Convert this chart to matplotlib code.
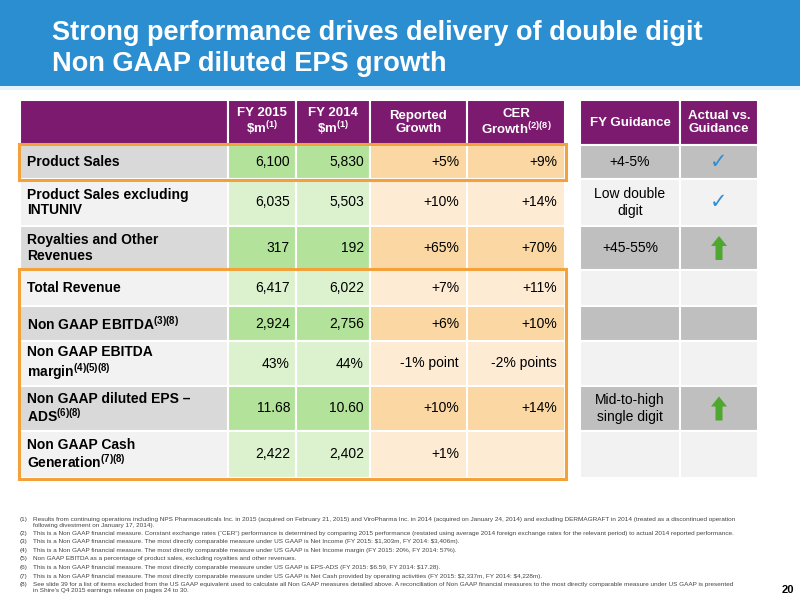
import matplotlib.pyplot as plt
from matplotlib.patches import Rectangle, FancyArrow

plt.rcParams['font.family'] = ['Liberation Sans', 'DejaVu Sans']
plt.rcParams['mathtext.fontset'] = 'custom'
plt.rcParams['mathtext.rm'] = 'Liberation Sans'
plt.rcParams['mathtext.bf'] = 'Liberation Sans:bold'

title = ["Strong performance drives delivery of double digit", "Non GAAP diluted EPS growth"]
headers = ["", "FY 2015\n\\$m$^{\\mathbf{(1)}}$", "FY 2014\n\\$m$^{\\mathbf{(1)}}$", "Reported\nGrowth",
           "CER\nGrowth$^{\\mathbf{(2)(8)}}$"]
guide_headers = ["FY Guidance", "Actual vs.\nGuidance"]
row_labels = ["Product Sales", "Product Sales excluding\nINTUNIV", "Royalties and Other\nRevenues",
              "Total Revenue", "Non GAAP EBITDA$^{\\mathbf{(3)(8)}}$", "Non GAAP EBITDA\nmargin$^{\\mathbf{(4)(5)(8)}}$",
              "Non GAAP diluted EPS \u2013\nADS$^{\\mathbf{(6)(8)}}$", "Non GAAP Cash\nGeneration$^{\\mathbf{(7)(8)}}$"]
fy2015 = ["6,100", "6,035", "317", "6,417", "2,924", "43%", "11.68", "2,422"]
fy2014 = ["5,830", "5,503", "192", "6,022", "2,756", "44%", "10.60", "2,402"]
reported = ["+5%", "+10%", "+65%", "+7%", "+6%", "-1% point", "+10%", "+1%"]
cer = ["+9%", "+14%", "+70%", "+11%", "+10%", "-2% points", "+14%", ""]
guidance = ["+4-5%", "Low double\ndigit", "+45-55%", "", "", "", "Mid-to-high\nsingle digit", ""]
status = ["check", "check", "up", "", "", "", "up", ""]
footnotes = [
    ("(1)", "Results from continuing operations including NPS Pharmaceuticals Inc. in 2015 (acquired on February 21, 2015) and ViroPharma Inc. in 2014 (acquired on January 24, 2014) and excluding DERMAGRAFT in 2014 (treated as a discontinued operation\nfollowing divestment on January 17, 2014)."),
    ("(2)", "This is a Non GAAP financial measure. Constant exchange rates (\u201cCER\u201d) performance is determined by comparing 2015 performance (restated using average 2014 foreign exchange rates for the relevant period) to actual 2014 reported performance."),
    ("(3)", "This is a Non GAAP financial measure. The most directly comparable measure under US GAAP is Net Income (FY 2015: $1,303m, FY 2014: $3,406m)."),
    ("(4)", "This is a Non GAAP financial measure. The most directly comparable measure under US GAAP is Net Income margin (FY 2015: 20%, FY 2014: 57%)."),
    ("(5)", "Non GAAP EBITDA as a percentage of product sales, excluding royalties and other revenues."),
    ("(6)", "This is a Non GAAP financial measure. The most directly comparable measure under US GAAP is EPS-ADS (FY 2015: $6.59, FY 2014: $17.28)."),
    ("(7)", "This is a Non GAAP financial measure. The most directly comparable measure under US GAAP is Net Cash provided by operating activities (FY 2015: $2,337m, FY 2014: $4,228m)."),
    ("(8)", "See slide 39 for a list of items excluded from the US GAAP equivalent used to calculate all Non GAAP measures detailed above. A reconciliation of Non GAAP financial measures to the most directly comparable measure under US GAAP is presented\nin Shire's Q4 2015 earnings release on pages 24 to 30."),
]

# layout in pixels
col_x = [20, 228, 296, 370, 467, 565]
gcol_x = [580, 680, 758]
row_y = [100, 145, 179, 226, 270, 306, 341, 386, 431, 478]
PURPLE = "#7B1A6E"

fig = plt.figure(figsize=(8, 6.01), dpi=100)
ax = fig.add_axes([0, 0, 1, 1])
ax.set_xlim(0, 800)
ax.set_ylim(601, 0)
ax.axis('off')

ax.add_patch(Rectangle((0, 0), 800, 86, color="#2B8ED1", lw=0))
ax.add_patch(Rectangle((0, 86), 800, 4, color="#E6F3FA", lw=0))
for i, t in enumerate(title):
    ax.text(52, 33 + i * 31, t, color="white", fontsize=19.5, fontweight='bold', va='center')

def cell(x0, x1, y0, y1, fc):
    ax.add_patch(Rectangle((x0, y0), x1 - x0, y1 - y0, fc=fc, ec="white", lw=1.5))

# headers
for j in range(5):
    cell(col_x[j], col_x[j + 1], row_y[0], row_y[1], PURPLE)
    ax.text((col_x[j] + col_x[j + 1]) / 2, (row_y[0] + row_y[1]) / 2, headers[j], color="white",
            fontsize=9.5, fontweight='bold', ha='center', va='center', linespacing=1.1)
for j in range(2):
    cell(gcol_x[j], gcol_x[j + 1], row_y[0], row_y[1], PURPLE)
    ax.text((gcol_x[j] + gcol_x[j + 1]) / 2, (row_y[0] + row_y[1]) / 2, guide_headers[j], color="white",
            fontsize=9.5, fontweight='bold', ha='center', va='center', linespacing=1.2)

for i in range(len(row_labels)):
    y0, y1 = row_y[i + 1], row_y[i + 2]
    ym = (y0 + y1) / 2
    dark = i % 2 == 0
    cell(col_x[0], col_x[1], y0, y1, "#D9D9D9" if dark else "#F2F2F2")
    cell(col_x[1], col_x[2], y0, y1, "#B3E39A" if dark else "#DCF2CF")
    cell(col_x[2], col_x[3], y0, y1, "#B3E39A" if dark else "#DCF2CF")
    cell(col_x[3], col_x[4], y0, y1, "#FAD7A3" if dark else "#FDEBD4")
    cell(col_x[4], col_x[5], y0, y1, "#FAD7A3" if dark else "#FDEBD4")
    cell(gcol_x[0], gcol_x[1], y0, y1, "#BFBFBF" if dark else "#F2F2F2")
    cell(gcol_x[1], gcol_x[2], y0, y1, "#BFBFBF" if dark else "#F2F2F2")
    ax.text(col_x[0] + 7, ym, row_labels[i], fontsize=10, fontweight='bold', va='center', linespacing=1.1)
    ax.text(col_x[2] - 6, ym, fy2015[i], fontsize=10, ha='right', va='center')
    ax.text(col_x[3] - 6, ym, fy2014[i], fontsize=10, ha='right', va='center')
    ax.text(col_x[4] - 8, ym, reported[i], fontsize=10, ha='right', va='center')
    ax.text(col_x[5] - 8, ym, cer[i], fontsize=10, ha='right', va='center')
    ax.text((gcol_x[0] + gcol_x[1]) / 2, ym, guidance[i], fontsize=10, ha='center', va='center', linespacing=1.2)
    gx = (gcol_x[1] + gcol_x[2]) / 2
    if status[i] == "check":
        ax.text(gx, ym, "\u2713", fontsize=15, color="#2F8FD6", ha='center', va='center',
                family='DejaVu Sans', fontweight='bold')
    elif status[i] == "up":
        ax.add_patch(FancyArrow(gx, ym + 12, 0, -24, width=7, head_width=16, head_length=10,
                                length_includes_head=True, color="#4EA72E", lw=0))

# orange highlight boxes
for r0, r1 in [(0, 1), (3, 8)]:
    ax.add_patch(Rectangle((col_x[0] - 1, row_y[r0 + 1] - 1), col_x[5] - col_x[0] + 2,
                           row_y[r1 + 1] - row_y[r0 + 1] + 2, fill=False, ec="#F2A13B", lw=2.2))

for k, (num, txt) in enumerate(footnotes):
    y = 517 + k * 8.6 + (5 if k > 0 else 0)
    ax.text(20, y, num, fontsize=4.6, color="#444444", va='top', parse_math=False)
    ax.text(33, y, txt, fontsize=4.6, color="#444444", va='top', linespacing=1.15, parse_math=False)

ax.text(794, 590, "20", fontsize=8, fontweight='bold', ha='right', va='center')

fig.savefig("out.png", dpi=100)
